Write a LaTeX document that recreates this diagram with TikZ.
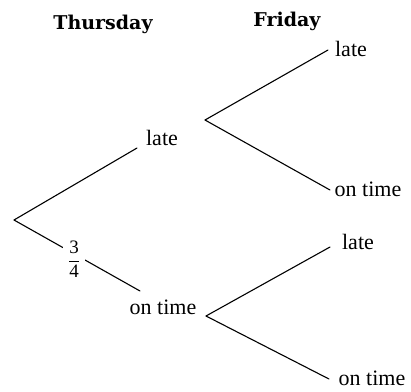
\documentclass[tikz,border=0pt]{standalone}
\usepackage{fontspec}
\usepackage{amsmath}
\setmainfont{Liberation Serif}
\newfontfamily\headfont{DejaVu Serif}
\begin{document}
\begin{tikzpicture}[x=1pt,y=-1pt,
  branch/.style={line width=1.1pt, line cap=round, line join=round},
  lbl/.style={font=\fontsize{22}{26}\selectfont, inner sep=0pt},
  head/.style={font=\headfont\bfseries\fontsize{19}{22}\selectfont, inner sep=0pt},
  frac/.style={font=\fontsize{19}{22}\selectfont, fill=white, inner sep=5pt}]
\useasboundingbox (0,0) rectangle (411,391);
% headers
\node[head] (hthu) at (103,24) {Thursday};
\node[head] (hfri) at (287,21) {Friday};
% branch points and ends
\coordinate (root) at (14,220);
\coordinate (t1) at (137,148);
\coordinate (t2) at (140,291);
\coordinate (f1) at (205,120);
\coordinate (f2) at (206,316);
\coordinate (e1) at (328,50);
\coordinate (e2) at (330,190);
\coordinate (e3) at (330,247);
\coordinate (e4) at (329,379);
% labels
\node[lbl] (lt) at (162,138) {late};
\node[lbl] (ot) at (163,307) {on time};
\node[lbl] (l2) at (358,242) {late};
\node[lbl] (l1) at (351,49) {late};
\node[lbl] (o1) at (368,189) {on time};
\node[lbl] (o2) at (372,378) {on time};
% branches
\draw[branch] (root) -- (t1);
\draw[branch] (root) -- (t2);
\draw[branch] (f1) -- (e1);
\draw[branch] (f1) -- (e2);
\draw[branch] (f2) -- (e3);
\draw[branch] (f2) -- (e4);
% probability
\node[frac] (p) at (74,259) {$\dfrac{\mbox{3}}{\mbox{4}}$};
\end{tikzpicture}
\end{document}
